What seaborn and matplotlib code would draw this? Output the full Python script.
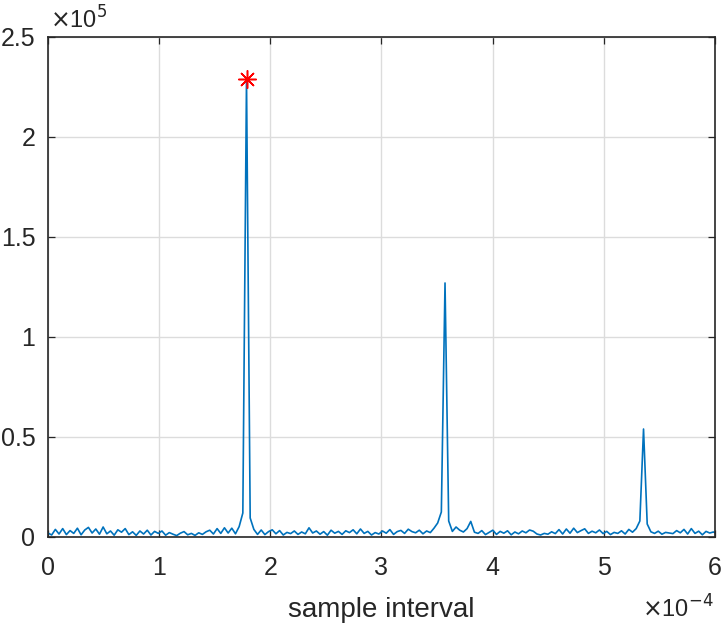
import numpy as np
import pandas as pd
import seaborn as sns
import matplotlib
matplotlib.use("Agg")
import matplotlib.pyplot as plt
from matplotlib.ticker import FuncFormatter

# sample spacing of the interval axis (seconds)
dx = 1 / (5600 * 54)

# spectrum magnitude, in thousands
mag_k = [
    2.0, 1.0, 3.8, 1.5, 4.2, 1.2, 3.2, 1.8, 4.4, 1.1,
    3.5, 4.8, 2.0, 4.0, 1.4, 5.0, 1.6, 3.0, 0.9, 3.6,
    2.4, 4.2, 1.2, 2.6, 0.8, 3.0, 1.5, 3.4, 1.0, 2.8,
    1.8, 3.0, 0.9, 2.2, 1.4, 0.7, 1.9, 2.7, 1.1, 1.8,
    0.8, 2.1, 1.3, 2.6, 3.4, 1.5, 4.2, 1.8, 4.6, 2.0,
    4.4, 1.6, 5.2, 12.0, 229.0, 9.5, 3.8, 1.3, 3.5, 1.2,
    2.7, 3.6, 1.6, 3.2, 1.0, 2.3, 1.7, 3.0, 1.3, 2.5,
    1.6, 4.6, 2.0, 3.0, 1.4, 2.7, 0.9, 3.4, 1.9, 2.8,
    1.3, 3.1, 2.2, 3.6, 1.6, 4.0, 1.8, 2.8, 1.0, 2.2,
    1.5, 3.0, 1.9, 3.7, 1.3, 2.7, 3.3, 1.8, 3.9, 2.7,
    2.1, 3.4, 1.6, 3.0, 2.2, 4.4, 7.0, 12.5, 127.0, 8.0,
    2.8, 5.0, 3.4, 2.5, 4.2, 7.8, 2.4, 1.8, 3.2, 1.2,
    2.3, 3.4, 1.3, 2.8, 1.9, 3.1, 1.1, 2.5, 1.6, 3.0,
    2.1, 3.5, 2.9, 1.5, 1.0, 1.8, 1.4, 2.6, 1.7, 3.7,
    1.5, 4.0, 1.9, 4.4, 2.2, 3.2, 4.1, 1.8, 2.9, 2.1,
    3.5, 1.7, 2.8, 1.2, 2.3, 1.8, 3.1, 1.5, 3.8, 2.4,
    4.2, 8.0, 54.0, 6.5, 2.6, 1.8, 2.9, 1.4, 2.3, 2.0,
    1.7, 3.2, 2.1, 3.8, 1.5, 4.2, 1.8, 2.9, 1.1, 2.8,
    2.0, 2.5, 1.7,
]

xticks = [0, 1e-4, 2e-4, 3e-4, 4e-4, 5e-4, 6e-4]
yticks = [0, 0.5e5, 1e5, 1.5e5, 2e5, 2.5e5]

df = pd.DataFrame({"interval": np.arange(len(mag_k)) * dx,
                   "mag": np.array(mag_k) * 1000})

sns.set_style("ticks")
plt.rcParams['font.family'] = ['Liberation Sans', 'DejaVu Sans']

fig = plt.figure(figsize=(7.25, 6.25), dpi=100)
ax = fig.add_axes([0.0662, 0.1408, 0.92, 0.80])

sns.lineplot(data=df, x="interval", y="mag", ax=ax, color="#0072BD", linewidth=1.2)

pk = df["mag"].idxmax()
ax.plot(df["interval"][pk], df["mag"][pk], marker=(8, 2, 0), color="red",
        markersize=13, markeredgewidth=1.1, linestyle="none")

ax.set_xlim(0, 6e-4)
ax.set_ylim(0, 2.5e5)
ax.set_xticks(xticks)
ax.set_yticks(yticks)
ax.xaxis.set_major_formatter(FuncFormatter(lambda v, p: f"{v * 1e4:g}"))
ax.yaxis.set_major_formatter(FuncFormatter(lambda v, p: f"{v / 1e5:g}"))
ax.grid(True, color="#dcdcdc", linewidth=1.0)
ax.set_axisbelow(True)

for s in ax.spines.values():
    s.set_visible(True)
    s.set_color("#262626")
    s.set_linewidth(1.2)
ax.tick_params(direction="in", length=5, width=0.9, colors="#262626",
               labelsize=18, top=True, right=True, labelcolor="#262626")
ax.tick_params(axis="x", pad=14)
ax.tick_params(axis="y", pad=9)

ax.set_xlabel("sample interval", fontsize=20, color="#262626", labelpad=12)
ax.set_ylabel("")

fig.text(0.069, 0.955, r"$\times$10$^{5}$", fontsize=17, color="#262626")
fig.text(0.885, 0.012, r"$\times$10$^{-4}$", fontsize=17, color="#262626")

fig.savefig("out.png", dpi=100)
